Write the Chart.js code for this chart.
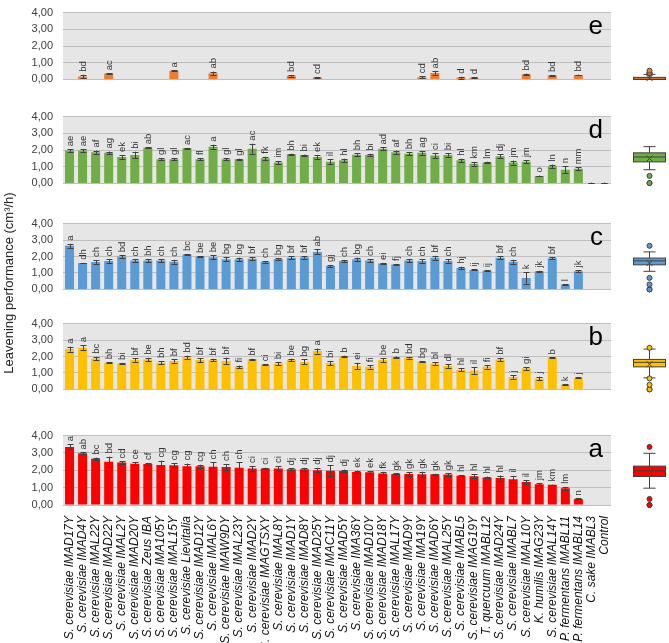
<!DOCTYPE html>
<html>
<head>
<meta charset="utf-8">
<script src="https://cdn.jsdelivr.net/npm/chart.js@4.4.0/dist/chart.umd.min.js"></script>
<style>
body{margin:0;background:#fff;}
#wrap{position:relative;width:669px;height:643px;overflow:hidden;}
canvas{position:absolute;left:0;}
#ytitle{position:absolute;left:-141px;top:275px;width:300px;height:16px;line-height:16px;text-align:center;
  transform:rotate(-90deg);font:13px 'Liberation Sans',Arial,sans-serif;color:#222;}
</style>
</head>
<body>
<div id="wrap">
<canvas id="pe" width="669" height="100" style="top:-4px"></canvas>
<canvas id="pd" width="669" height="100" style="top:100px"></canvas>
<canvas id="pc" width="669" height="99" style="top:207px"></canvas>
<canvas id="pb" width="669" height="99" style="top:307px"></canvas>
<canvas id="pa" width="669" height="224" style="top:419px"></canvas>
<div id="ytitle">Leavening performance (cm³/h)</div>
</div>
<script>
var strains = ['S. cerevisiae IMAD17Y','S. cerevisiae IMAD4Y','S. cerevisiae IMAL22Y','S. cerevisiae IMAD22Y',
  'S. cerevisiae IMAL2Y','S. cerevisiae IMAD20Y','S. cerevisiae Zeus IBA','S. cerevisiae IMA105Y',
  'S. cerevisiae IMAL15Y','S. cerevisiae Lievitalia','S. cerevisiae IMAD12Y','S. cerevisiae IMAL6Y',
  'S. cerevisiae IMAW9DY','S. cerevisiae IMAL23Y','S. cerevisiae IMAD2Y','S. cerevisiae IMAGTSXY',
  'S. cerevisiae IMAL8Y','S. cerevisiae IMAD1Y','S. cerevisiae IMAD8Y','S. cerevisiae IMAD25Y',
  'S. cerevisiae IMAC11Y','S. cerevisiae IMAD5Y','S. cerevisiae IMA36Y','S. cerevisiae IMAD10Y',
  'S. cerevisiae IMAD18Y','S. cerevisiae IMAL17Y','S. cerevisiae IMAD9Y','S. cerevisiae IMA19Y',
  'S. cerevisiae IMAD6Y','S. cerevisiae IMAL25Y','S. cerevisiae IMABL5','S. cerevisiae IMAG19Y',
  'T. quercuum IMABL12','S. cerevisiae IMAD24Y','S. cerevisiae IMABL7','S. cerevisiae IMAL10Y',
  'K. humilis IMAG23Y','S. cerevisiae IMAL14Y','P. fermentans IMABL11','P. fermentans IMABL14',
  'C. sake IMABL3','Control'];

var yTicks = [0, 1, 2, 3, 4];

// panel a (red)
var valuesA = [3.35,2.98,2.66,2.49,2.45,2.38,2.36,2.31,2.29,2.24,2.24,2.20,2.19,2.15,2.10,2.10,2.10,2.06,2.06,2.01,
  1.98,1.96,1.90,1.89,1.81,1.79,1.78,1.77,1.77,1.76,1.68,1.66,1.59,1.55,1.48,1.32,1.20,1.16,0.97,0.35,0,0];
var errA = [0.15,0.05,0.07,0.30,0.06,0.08,0.06,0.25,0.12,0.15,0.08,0.25,0.17,0.30,0.15,0.05,0.15,0.05,0.08,0.13,
  0.30,0.08,0.08,0.07,0.10,0.03,0.12,0.15,0.03,0.07,0.05,0.12,0.05,0.15,0.20,0.10,0.06,0.02,0.08,0.03,0,0];
var lettersA = ['a','ab','bc','bd','cd','ce','cf','cg','cg','cg','cg','ch','ch','ch','ci','ci','ci','dj','dj','dj',
  'dj','dj','ek','ek','fk','gk','gk','gk','gk','gk','hl','hl','hl','hl','il','il','jm','km','lm','n','',''];

// panel b (yellow)
var valuesB = [2.45,2.53,1.88,1.62,1.58,1.78,1.82,1.62,1.73,1.95,1.78,1.78,1.73,1.37,1.83,1.50,1.57,1.80,1.67,2.33,
  1.60,2.00,1.42,1.37,1.78,1.95,1.92,1.68,1.58,1.42,1.20,1.15,1.37,1.82,0.75,1.28,0.67,1.92,0.28,0.70,0,0];
var errB = [0.15,0.15,0.10,0.03,0.03,0.10,0.10,0.10,0.10,0.10,0.12,0.08,0.20,0.08,0.03,0.03,0.08,0.07,0.15,0.15,
  0.12,0.05,0.20,0.10,0.12,0.05,0.05,0.03,0.07,0.10,0.08,0.20,0.10,0.10,0.10,0.08,0.10,0.02,0.03,0.03,0,0];
var lettersB = ['a','a','bc','bh','bi','bf','be','bh','bf','bd','bf','bf','bf','fi','bf','ci','bi','be','bg','a',
  'bi','b','ei','fi','be','b','bd','bg','bl','dl','hl','il','fi','bf','j','gi','j','b','k','j','',''];

// panel c (blue)
var valuesC = [2.65,1.60,1.67,1.72,2.00,1.75,1.75,1.75,1.68,2.12,2.00,1.95,1.83,1.83,1.87,1.68,1.85,1.92,1.95,2.28,
  1.42,1.72,1.83,1.75,1.58,1.52,1.75,1.72,1.92,1.72,1.30,1.18,1.13,1.92,1.68,0.70,1.10,1.90,0.30,1.10,0,0];
var errC = [0.12,0.02,0.12,0.12,0.08,0.07,0.10,0.08,0.12,0.03,0.03,0.12,0.12,0.10,0.10,0.05,0.05,0.10,0.08,0.15,
  0.07,0.07,0.10,0.10,0.03,0.03,0.10,0.10,0.12,0.10,0.08,0.03,0.03,0.10,0.12,0.35,0.03,0.05,0.02,0.05,0,0];
var lettersC = ['a','dh','ch','ch','bd','ch','bh','ch','ch','bc','be','be','bg','bg','bf','ch','bg','bf','bf','ab',
  'gj','ch','bg','ch','ei','fj','ch','ch','bf','ch','hj','ij','ij','bf','ch','k','jk','bf','l','jk','',''];

// panel d (green)
var valuesD = [1.97,1.97,1.87,1.83,1.58,1.70,2.13,1.45,1.45,2.10,1.45,2.20,1.45,1.45,2.08,1.50,1.25,1.75,1.70,1.58,
  1.30,1.38,1.72,1.70,2.08,1.87,1.78,1.83,1.67,1.70,1.38,1.17,1.25,1.62,1.25,1.30,0.45,1.03,0.82,0.88,0.02,0.02];
var errD = [0.08,0.08,0.10,0.08,0.12,0.20,0.03,0.07,0.07,0.02,0.07,0.12,0.07,0.03,0.30,0.10,0.10,0.03,0.03,0.12,
  0.15,0.10,0.08,0.07,0.07,0.10,0.08,0.12,0.15,0.10,0.10,0.12,0.05,0.12,0.12,0.08,0.02,0.10,0.20,0.08,0.03,0.03];
var lettersD = ['ae','ae','af','ag','ek','bi','ab','gl','gl','ac','fl','a','gl','gl','ac','fk','im','bh','bi','ek',
  'il','hl','bh','bi','ad','af','bh','ag','ci','bi','hl','km','lm','dj','jm','jm','o','ln','n','mm','',''];

// panel e (orange)
var valuesE = [0,0.18,0,0.35,0,0,0,0,0.52,0,0,0.37,0,0,0,0,0,0.22,0,0.12,
  0,0,0,0,0,0,0,0.13,0.38,0,0.10,0.10,0,0,0,0.30,0,0.23,0,0.27,0,0];
var errE = [0,0.10,0,0.02,0,0,0,0,0.02,0,0,0.10,0,0,0,0,0,0.05,0,0.02,
  0,0,0,0,0,0,0,0.06,0.10,0,0.06,0.03,0,0,0,0.05,0,0.03,0,0.02,0,0];
var lettersE = ['','bd','','ac','','','','','a','','','ab','','','','','','bd','','cd',
  '','','','','','','','cd','ab','','d','d','','','','bd','','bd','','bd','',''];

Chart.defaults.font.family = "'Liberation Sans', Arial, sans-serif";

function quart(s, p) {
  var pos = p * (s.length + 1) - 1;
  var lo = Math.max(0, Math.min(s.length - 1, Math.floor(pos)));
  var hi = Math.max(0, Math.min(s.length - 1, Math.ceil(pos)));
  return s[lo] + (s[hi] - s[lo]) * (pos - Math.floor(pos));
}

var decor = {
  id: 'decor',
  beforeDraw: function(chart) {
    var a = chart.chartArea, ctx = chart.ctx;
    ctx.save();
    ctx.fillStyle = '#e7e6e6';
    ctx.fillRect(a.left, a.top, a.right - a.left, a.bottom - a.top);
    ctx.restore();
  },
  afterDatasetsDraw: function(chart, args, o) {
    var ctx = chart.ctx, y = chart.scales.y, a = chart.chartArea;
    var meta = chart.getDatasetMeta(0);
    var vals = chart.data.datasets[0].data;
    ctx.save();
    ctx.strokeStyle = '#404040';
    ctx.lineWidth = 1;
    ctx.fillStyle = '#333';
    ctx.font = '9.5px "Liberation Sans", Arial, sans-serif';
    meta.data.forEach(function(bar, i) {
      var v = vals[i], e = o.err[i];
      var x = Math.round(bar.x) + 0.5;
      var yt = y.getPixelForValue(v + e);
      if (e > 0) {
        var yb = y.getPixelForValue(Math.max(v - e, 0));
        ctx.beginPath();
        ctx.moveTo(x, yt); ctx.lineTo(x, yb);
        ctx.moveTo(x - 3, Math.round(yt) + 0.5); ctx.lineTo(x + 3, Math.round(yt) + 0.5);
        ctx.moveTo(x - 3, Math.round(yb) + 0.5); ctx.lineTo(x + 3, Math.round(yb) + 0.5);
        ctx.stroke();
      }
      if (o.letters[i]) {
        ctx.save();
        ctx.translate(x, yt - 3);
        ctx.rotate(-Math.PI / 2);
        ctx.textAlign = 'left';
        ctx.textBaseline = 'middle';
        ctx.fillText(o.letters[i], 0, 0);
        ctx.restore();
      }
    });

    // panel tag
    ctx.fillStyle = '#000';
    ctx.font = '26px "Liberation Sans", Arial, sans-serif';
    ctx.textAlign = 'right';
    ctx.textBaseline = 'alphabetic';
    ctx.fillText(o.tag, a.right - 8, a.top + 21);

    // box plot of the panel values, on the same y scale
    var s = vals.slice().sort(function(p, q) { return p - q; });
    var q1 = quart(s, 0.25), med = quart(s, 0.5), q3 = quart(s, 0.75);
    var mean = s.reduce(function(t, v) { return t + v; }, 0) / s.length;
    var iqr = q3 - q1;
    var inside = s.filter(function(v) { return v >= q1 - 1.5 * iqr && v <= q3 + 1.5 * iqr; });
    var wLo = inside[0], wHi = inside[inside.length - 1];
    var cx = Math.round(a.right + 38) + 0.5, hw = 16;
    var pq1 = y.getPixelForValue(q1), pq3 = y.getPixelForValue(q3);
    ctx.strokeStyle = '#404040';
    ctx.beginPath();
    ctx.moveTo(cx, y.getPixelForValue(wHi)); ctx.lineTo(cx, pq3);
    ctx.moveTo(cx, pq1); ctx.lineTo(cx, y.getPixelForValue(wLo));
    ctx.moveTo(cx - 6, y.getPixelForValue(wHi)); ctx.lineTo(cx + 6, y.getPixelForValue(wHi));
    ctx.moveTo(cx - 6, y.getPixelForValue(wLo)); ctx.lineTo(cx + 6, y.getPixelForValue(wLo));
    ctx.stroke();
    ctx.fillStyle = o.color;
    ctx.fillRect(cx - hw, pq3, hw * 2, Math.max(pq1 - pq3, 2));
    ctx.strokeRect(cx - hw, pq3, hw * 2, Math.max(pq1 - pq3, 2));
    var pm = y.getPixelForValue(med);
    ctx.beginPath();
    ctx.moveTo(cx - hw, pm); ctx.lineTo(cx + hw, pm);
    var pmean = y.getPixelForValue(mean);
    ctx.moveTo(cx - 3, pmean - 3); ctx.lineTo(cx + 3, pmean + 3);
    ctx.moveTo(cx - 3, pmean + 3); ctx.lineTo(cx + 3, pmean - 3);
    ctx.stroke();
    s.forEach(function(v) {
      if (v < wLo || v > wHi) {
        ctx.beginPath();
        ctx.arc(cx, y.getPixelForValue(v), 2.5, 0, Math.PI * 2);
        ctx.fillStyle = o.color;
        ctx.fill();
        ctx.stroke();
      }
    });
    ctx.restore();
  }
};

function panel(id, values, err, letters, color, tag, showX) {
  var h = document.getElementById(id).height;
  return new Chart(document.getElementById(id), {
    type: 'bar',
    data: {
      labels: strains,
      datasets: [{ data: values, backgroundColor: color, borderWidth: 0,
        categoryPercentage: 1, barPercentage: 0.69 }]
    },
    options: {
      responsive: false,
      animation: false,
      layout: { padding: { top: 10, bottom: showX ? 0 : 10, left: 0, right: 58 } },
      plugins: {
        legend: { display: false },
        tooltip: { enabled: false },
        decor: { err: err, letters: letters, color: color, tag: tag }
      },
      scales: {
        x: {
          display: showX,
          grid: { display: false },
          border: { display: false },
          ticks: {
            autoSkip: false, minRotation: 90, maxRotation: 90, padding: 3,
            color: '#111', font: { size: 12, style: 'italic' }
          },
          afterFit: function(sc) { if (showX) sc.height = h - 86; }
        },
        y: {
          min: 0, max: 4,
          afterBuildTicks: function(sc) { sc.ticks = yTicks.map(function(v) { return { value: v }; }); },
          afterFit: function(sc) { sc.width = 63; },
          border: { display: false },
          grid: { color: '#bfbfbf', drawTicks: false },
          ticks: {
            padding: 10, color: '#404040', font: { size: 11 },
            callback: function(v) { return v.toFixed(2).replace('.', ','); }
          }
        }
      }
    },
    plugins: [decor]
  });
}

panel('pe', valuesE, errE, lettersE, '#ed7d31', 'e', false);
panel('pd', valuesD, errD, lettersD, '#70ad47', 'd', false);
panel('pc', valuesC, errC, lettersC, '#5b9bd5', 'c', false);
panel('pb', valuesB, errB, lettersB, '#ffc000', 'b', false);
panel('pa', valuesA, errA, lettersA, '#ff0000', 'a', true);
</script>
</body>
</html>
